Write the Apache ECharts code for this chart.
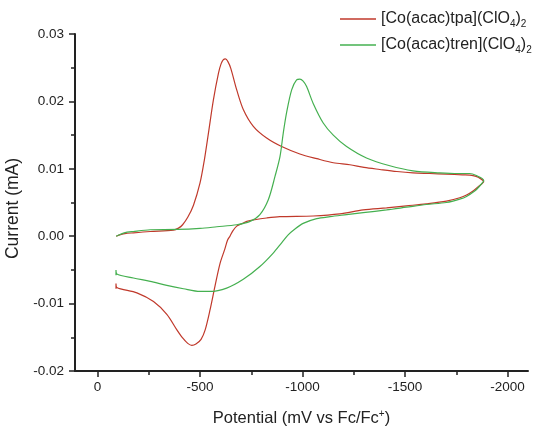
<!DOCTYPE html>
<html>
<head>
<meta charset="utf-8">
<script src="https://cdn.jsdelivr.net/npm/echarts@6/dist/echarts.min.js"></script>
<style>html,body{margin:0;padding:0;background:#fff}#c{width:537px;height:427px}</style>
</head>
<body>
<div id="c"></div>
<script>
// ---- data (potential in mV vs Fc/Fc+, current in mA) ----
const seriesNames = ['[Co(acac)tpa](ClO4)2', '[Co(acac)tren](ClO4)2'];
const tpaV = [-91,-133,-175,-257,-370,-395,-415,-440,-468,-500,-521,-541,-565,-590,-603,-614,-624,-636,-650,-679,-711,-760,-825,-898,-987,-1070,-1150,-1231,-1300,-1377,-1460,-1539,-1620,-1702,-1780,-1832,-1860,-1884,
  -1860,-1832,-1800,-1767,-1702,-1604,-1507,-1410,-1296,-1182,-1052,-889,-825,-760,-728,-700,-679,-660,-646,-634,-620,-598,-573,-549,-525,-505,-480,-460,-440,-415,-387,-338,-273,-192,-94,-90,-90];
const tpaI = [0.0000,0.00037,0.0005,0.0007,0.0009,0.0012,0.0017,0.0028,0.0046,0.0079,0.0113,0.0153,0.0202,0.0242,0.0256,0.0262,0.0263,0.0259,0.0249,0.0217,0.0188,0.0163,0.01456,0.0133,0.0122,0.0115,0.0109,0.0106,0.0102,0.0099,0.0096,0.0094,0.0093,0.0092,0.0091,0.0090,0.0087,0.0081,
  0.0074,0.0067,0.0061,0.0057,0.0052,0.0048,0.0045,0.0042,0.0039,0.0033,0.0030,0.0029,0.0027,0.0024,0.0022,0.0018,0.0015,0.0008,0.0000,-0.0006,-0.0020,-0.0040,-0.0074,-0.0109,-0.0139,-0.0153,-0.0160,-0.0162,-0.0159,-0.0151,-0.0139,-0.0116,-0.0097,-0.0084,-0.0076,-0.0070,-0.0078];
const trenV = [-91,-130,-175,-257,-387,-500,-582,-679,-744,-792,-833,-866,-890,-906,-922,-947,-971,-987,-1003,-1020,-1052,-1101,-1150,-1215,-1312,-1426,-1539,-1669,-1760,-1815,-1848,-1884,
  -1860,-1840,-1800,-1767,-1702,-1604,-1507,-1410,-1296,-1215,-1134,-1069,-1003,-960,-930,-900,-857,-792,-711,-630,-549,-500,-419,-338,-257,-175,-94,-90,-90];
const trenI = [0.0000,0.0005,0.0007,0.00096,0.0010,0.00116,0.0014,0.0017,0.0022,0.0032,0.0054,0.0089,0.0118,0.0153,0.0183,0.0217,0.0232,0.0233,0.0230,0.0222,0.0197,0.0168,0.0150,0.0133,0.0116,0.01045,0.0097,0.0094,0.0093,0.0093,0.0090,0.0083,
  0.0073,0.0067,0.0059,0.0055,0.0050,0.0047,0.0043,0.0039,0.0035,0.0032,0.0029,0.0026,0.0019,0.0010,0.0002,-0.0009,-0.0025,-0.0045,-0.0064,-0.0077,-0.0082,-0.0082,-0.0078,-0.0073,-0.0067,-0.0062,-0.0056,-0.0050,-0.0058];
const xMajorTicks = [0,-500,-1000,-1500,-2000];
const xMinorTicks = [-250,-750,-1250,-1750];
const legendLabels = {
  '[Co(acac)tpa](ClO4)2': '[Co(acac)tpa](ClO{sub|4}){sub|2}',
  '[Co(acac)tren](ClO4)2': '[Co(acac)tren](ClO{sub|4}){sub|2}'
};

const zip = (a, b) => a.map((v, i) => [v, b[i]]);
const FONT = 'Arial, "Liberation Sans", sans-serif';
const AX = '#222';
const chart = echarts.init(document.getElementById('c'), null, {renderer: 'canvas'});
const commonX = {
  type: 'value', inverse: true, min: -2100, max: 110, position: 'bottom',
  splitLine: {show: false}
};
chart.setOption({
  animation: false,
  backgroundColor: '#fff',
  textStyle: {fontFamily: FONT},
  grid: {left: 75, right: 9, top: 34, bottom: 56, containLabel: false, outerBoundsMode: 'none'},
  legend: {
    orient: 'vertical', left: 340, top: 9, itemGap: 6, padding: 0,
    icon: 'rect', itemWidth: 36, itemHeight: 1.3,
    data: seriesNames,
    formatter: n => legendLabels[n],
    textStyle: {
      fontFamily: FONT, fontSize: 16, color: AX, lineHeight: 20,
      rich: {sub: {fontFamily: FONT, fontSize: 10, color: AX, verticalAlign: 'bottom'}}
    }
  },
  xAxis: [
    Object.assign({}, commonX, {
      name: 'Potential (mV vs Fc/Fc{sup|+})',
      nameLocation: 'middle', nameGap: 38,
      nameTextStyle: {fontFamily: FONT, fontSize: 16.5, color: AX, lineHeight: 18,
        rich: {sup: {fontFamily: FONT, fontSize: 10, color: AX, verticalAlign: 'top'}}},
      axisLine: {show: true, onZero: false, lineStyle: {color: AX, width: 2}},
      axisTick: {show: true, length: 6, customValues: xMajorTicks, lineStyle: {color: AX, width: 1.5}},
      axisLabel: {show: true, customValues: xMajorTicks, margin: 9, fontSize: 13.5, color: AX, fontFamily: FONT,
        formatter: v => String(Math.round(v))}
    }),
    Object.assign({}, commonX, {
      axisLine: {show: false, onZero: false},
      axisTick: {show: true, length: 4, customValues: xMinorTicks, lineStyle: {color: AX, width: 1.5}},
      axisLabel: {show: false}
    })
  ],
  yAxis: {
    type: 'value', min: -0.02, max: 0.03, interval: 0.01,
    name: 'Current (mA)', nameLocation: 'middle', nameGap: 43,
    nameTextStyle: {fontFamily: FONT, fontSize: 17.5, color: AX, padding: [0, 12, 0, 0]},
    axisLine: {show: true, onZero: false, lineStyle: {color: AX, width: 2}},
    axisTick: {show: true, length: 6, lineStyle: {color: AX, width: 1.5}},
    minorTick: {show: true, splitNumber: 2, length: 4, lineStyle: {color: AX, width: 1.5}},
    splitLine: {show: false},
    axisLabel: {margin: 11, fontSize: 13.5, color: AX, fontFamily: FONT,
      formatter: v => (Math.abs(v) < 1e-9 ? 0 : v).toFixed(2)}
  },
  series: [
    {name: seriesNames[0], type: 'line', xAxisIndex: 0, data: zip(tpaV, tpaI), showSymbol: false, smooth: 0.3,
      color: '#c0392b', lineStyle: {color: '#c0392b', width: 1.2}},
    {name: seriesNames[1], type: 'line', xAxisIndex: 0, data: zip(trenV, trenI), showSymbol: false, smooth: 0.3,
      color: '#45b050', lineStyle: {color: '#45b050', width: 1.2}}
  ]
});
</script>
</body>
</html>
